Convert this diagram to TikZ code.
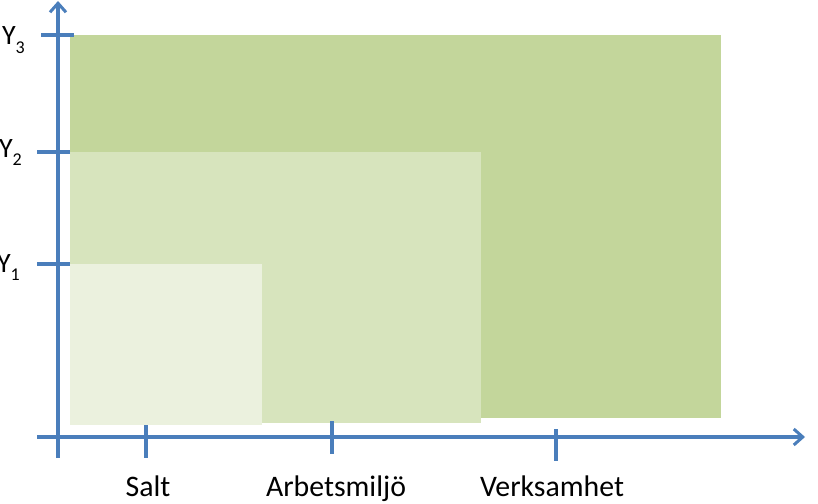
\documentclass[tikz,border=0pt]{standalone}
\usepackage{fontspec}
\setmainfont{Carlito}
\usetikzlibrary{arrows.meta}
\definecolor{axisblue}{HTML}{4A7EBB}
\definecolor{greenA}{HTML}{C3D69B}
\definecolor{greenB}{HTML}{D7E4BD}
\definecolor{greenC}{HTML}{EBF1DE}
\newcommand{\mysub}[1]{\raisebox{-0.3em}{\fontsize{18}{20}\selectfont #1}}
\begin{document}
\begin{tikzpicture}[x=1pt,y=-1pt,
  axisline/.style={draw=axisblue,line width=3.2pt},
  tickline/.style={draw=axisblue,line width=3.2pt},
  arrowtip/.style={-{Straight Barb[length=9pt,width=16pt,line width=3pt]}},
  xlabel/.style={font=\fontsize{29.8}{32}\selectfont,anchor=base},
  ylabel/.style={font=\fontsize{28}{32}\selectfont,anchor=base east,inner sep=0pt}]
\useasboundingbox (0,0) rectangle (818,503);
% rectangles
\fill[greenA] (70,35) rectangle (721,418);
\fill[greenB] (70,152) rectangle (481,423);
\fill[greenC] (70,264) rectangle (262,425);
% axes
\coordinate (ybot) at (58,458);
\coordinate (ytop) at (58,1);
\coordinate (xleft) at (37,437);
\coordinate (xright) at (805,437);
\draw[axisline,arrowtip] (ybot) -- (ytop);
\draw[axisline,arrowtip] (xleft) -- (xright);
% y ticks
\coordinate (t3a) at (41,35); \coordinate (t3b) at (74,35);
\coordinate (t2a) at (37,152); \coordinate (t2b) at (70,152);
\coordinate (t1a) at (37,264); \coordinate (t1b) at (70,264);
\draw[tickline] (t3a) -- (t3b);
\draw[tickline] (t2a) -- (t2b);
\draw[tickline] (t1a) -- (t1b);
% x ticks
\coordinate (s1) at (146,425); \coordinate (s2) at (146,458);
\coordinate (a1) at (332,421); \coordinate (a2) at (332,454);
\coordinate (v1) at (556,429); \coordinate (v2) at (556,461);
\draw[tickline] (s1) -- (s2);
\draw[tickline] (a1) -- (a2);
\draw[tickline] (v1) -- (v2);
% labels
\node[ylabel] (y3) at (25,45) {Y\mysub{3}};
\node[ylabel] (y2) at (22,157) {Y\mysub{2}};
\node[ylabel] (y1) at (20,272) {Y\mysub{1}};
\node[xlabel] (salt) at (148,496) {Salt};
\node[xlabel] (arb) at (336,496) {Arbetsmiljö};
\node[xlabel] (verk) at (552,496) {Verksamhet};
\end{tikzpicture}
\end{document}
